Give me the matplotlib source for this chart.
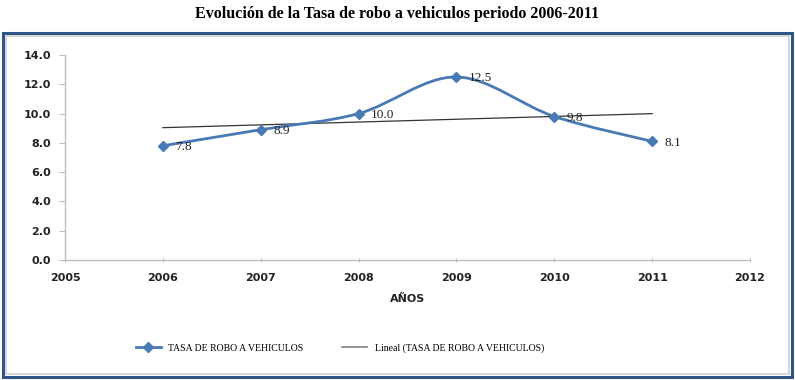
import numpy as np
import matplotlib
matplotlib.use("Agg")
import matplotlib.pyplot as plt
from matplotlib.path import Path
from matplotlib.patches import PathPatch, Rectangle
from matplotlib.lines import Line2D


TITLE = "Evolución de la Tasa de robo a vehiculos periodo 2006-2011"
SERIES_NAME = "TASA DE ROBO A VEHICULOS"
TREND_NAME = "Lineal (TASA DE ROBO A VEHICULOS)"
X_LABEL = "AÑOS"

YEARS = [2006, 2007, 2008, 2009, 2010, 2011]
RATES = [7.8, 8.9, 10.0, 12.5, 9.8, 8.1]

X_TICKS = [2005, 2006, 2007, 2008, 2009, 2010, 2011, 2012]
Y_TICKS = [0, 2, 4, 6, 8, 10, 12, 14]

LINE_COLOR = "#4a7ab5"
AXIS_COLOR = "#bfbfbf"


def smooth_path(xs, ys):
    """
    Excel-like smoothed line: cubic Bezier segments through the points.
    """
    pts = np.column_stack([xs, ys]).astype(float)
    n = len(pts)
    verts = [pts[0]]
    codes = [Path.MOVETO]
    for i in range(n - 1):
        p0 = pts[max(i - 1, 0)]
        p1 = pts[i]
        p2 = pts[i + 1]
        p3 = pts[min(i + 2, n - 1)]
        c1 = p1 + (p2 - p0) / 6.0
        c2 = p2 - (p3 - p1) / 6.0
        verts += [c1, c2, p2]
        codes += [Path.CURVE4] * 3
    return Path(verts, codes)


fig = plt.figure(figsize=(7.95, 3.8), dpi=100)

# outer chart frame
fig.patches.append(
    Rectangle((3 / 795, 3 / 380), 789 / 795, 344 / 380,
              transform=fig.transFigure, fill=False,
              edgecolor="#2f5686", linewidth=2.2)
)
fig.patches.append(
    Rectangle((6 / 795, 6 / 380), 783 / 795, 338 / 380,
              transform=fig.transFigure, fill=False,
              edgecolor="#d0d0d0", linewidth=1.2)
)

fig.text(0.5, 1 - 14 / 380, TITLE, ha="center", va="center",
         fontsize=11.5, fontweight="bold", family="Liberation Serif")

ax = fig.add_axes([65 / 795, 120 / 380, 685 / 795, 205 / 380])

ax.set_xlim(X_TICKS[0], X_TICKS[-1])
ax.set_ylim(Y_TICKS[0], Y_TICKS[-1])
ax.set_xticks(X_TICKS)
ax.set_yticks(Y_TICKS)
ax.set_xticklabels([str(x) for x in X_TICKS])
ax.set_yticklabels([f"{y:.1f}" for y in Y_TICKS])

for side in ["top", "right"]:
    ax.spines[side].set_visible(False)
for side in ["left", "bottom"]:
    ax.spines[side].set_color(AXIS_COLOR)
    ax.spines[side].set_linewidth(1.0)

ax.tick_params(axis="y", colors=AXIS_COLOR, length=4, width=0.8,
               labelcolor="#222222", labelsize=8, pad=6)
ax.tick_params(axis="x", colors=AXIS_COLOR, length=3, width=0.8,
               direction="inout", labelcolor="#222222", labelsize=8, pad=8)
for label in ax.get_xticklabels() + ax.get_yticklabels():
    label.set_fontweight("bold")
    label.set_family("DejaVu Sans")

ax.set_xlabel(X_LABEL, fontsize=8, fontweight="bold", labelpad=8,
              color="#222222")

# linear trendline
slope, intercept = np.polyfit(YEARS, RATES, 1)
trend_x = np.array([YEARS[0], YEARS[-1]])
ax.plot(trend_x, slope * trend_x + intercept, color="#333333",
        linewidth=0.9, zorder=2)

# smoothed series
ax.add_patch(PathPatch(smooth_path(YEARS, RATES), facecolor="none",
                       edgecolor=LINE_COLOR, linewidth=2.0, zorder=3))
ax.plot(YEARS, RATES, linestyle="none", marker="D", markersize=5.5,
        color=LINE_COLOR, zorder=4)

for x, y in zip(YEARS, RATES):
    ax.annotate(f"{y:.1f}", (x, y), xytext=(9, -1), textcoords="offset points",
                ha="left", va="center", fontsize=9.5, color="#222222",
                family="Liberation Serif", zorder=5)

handles = [
    Line2D([], [], color=LINE_COLOR, linewidth=2.0, marker="D", markersize=5),
    Line2D([], [], color="#808080", linewidth=1.2),
]
fig.legend(handles, [SERIES_NAME, TREND_NAME], loc="center",
           bbox_to_anchor=(340 / 795, 1 - 348 / 380), ncol=2, frameon=False,
           handlelength=2.5, columnspacing=4,
           prop={"family": "Liberation Serif", "size": 7})

fig.savefig("out.png", dpi=100)
